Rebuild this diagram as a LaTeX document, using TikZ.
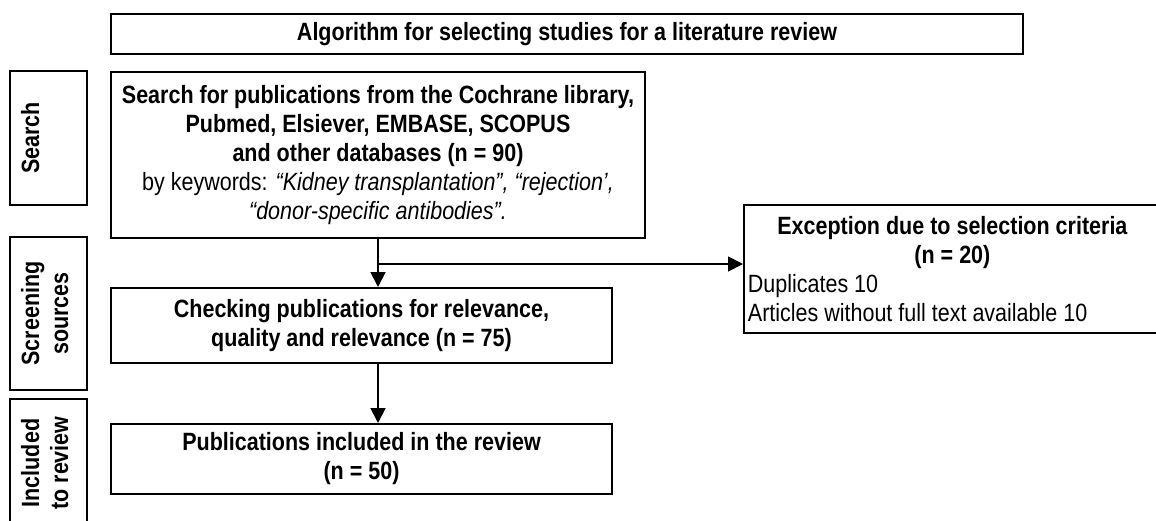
\documentclass[tikz,border=0pt]{standalone}
\usepackage{fontspec}
\setmainfont{Liberation Sans}[FakeStretch=0.86]
\usetikzlibrary{arrows.meta,positioning}
\tikzset{
    %Define standard arrow tip
    >={Triangle[length=15pt,width=15pt]},
    %Define style for the flow boxes
    stepbox/.style={
           rectangle,
           draw=black, line width=1.8pt,
           anchor=north,
           inner xsep=4pt,
           inner ysep=2pt,
           align=center,
           font=\fontsize{25}{29}\selectfont\bfseries},
    %Define style for the stage boxes on the left
    stagebox/.style={
           rectangle,
           draw=black, line width=1.8pt,
           rotate=90,
           inner ysep=9pt,
           text height=20pt,
           text depth=39pt,
           align=center,
           font=\fontsize{25}{29}\selectfont\bfseries},
    twolines/.style={text height=49pt, text depth=10pt}
}
\begin{document}
\begin{tikzpicture}[x=1pt,y=-1pt]
\useasboundingbox (0,0) rectangle (1156,520);

 %nodes
\node[stepbox, minimum width=912pt, minimum height=40pt](title) at (567,13)
  {Algorithm for selecting studies for a literature review};
\node[stepbox, minimum width=534pt, minimum height=166pt](search) at (378,71)
  {Search for publications from the Cochrane library,\\
   Pubmed, Elsiever, EMBASE, SCOPUS\\
   and other databases (n = 90)\\
   \mdseries by keywords: \itshape “Kidney transplantation”, “rejection’,\\
   \mdseries\itshape “donor-specific antibodies”.};
\node[stepbox, minimum width=501pt, minimum height=75pt](check) at (361.5,287)
  {Checking publications for relevance,\\ quality and relevance (n = 75)};
\node[stepbox, minimum width=501pt, minimum height=70pt](pub) at (361.5,423)
  {Publications included in the review\\ (n = 50)};
\node[stepbox, anchor=north west, text width=409pt, minimum height=128pt, align=flush left](except) at (743,204)
  {\makebox[409pt]{Exception due to selection criteria}\\
   \makebox[409pt]{(n = 20)}\\
   \mdseries Duplicates 10\\
   \mdseries Articles without full text available 10};

 %stages
\node[stagebox, minimum width=134pt](stsearch) at (48.5,138) {Search};
\node[stagebox, twolines, minimum width=153pt](stscreen) at (48.5,313.5) {Screening\\ sources};
\node[stagebox, twolines, minimum width=128pt](stinclude) at (48.5,463) {Included\\ to review};

 %connectors
\coordinate (branch) at (378,264);
\path[->, line width=1.8pt]
    (search.south) edge (search.south |- check.north)
    (branch) edge (branch -| except.west)
    (search.south |- check.south) edge (search.south |- pub.north);
\end{tikzpicture}
\end{document}
